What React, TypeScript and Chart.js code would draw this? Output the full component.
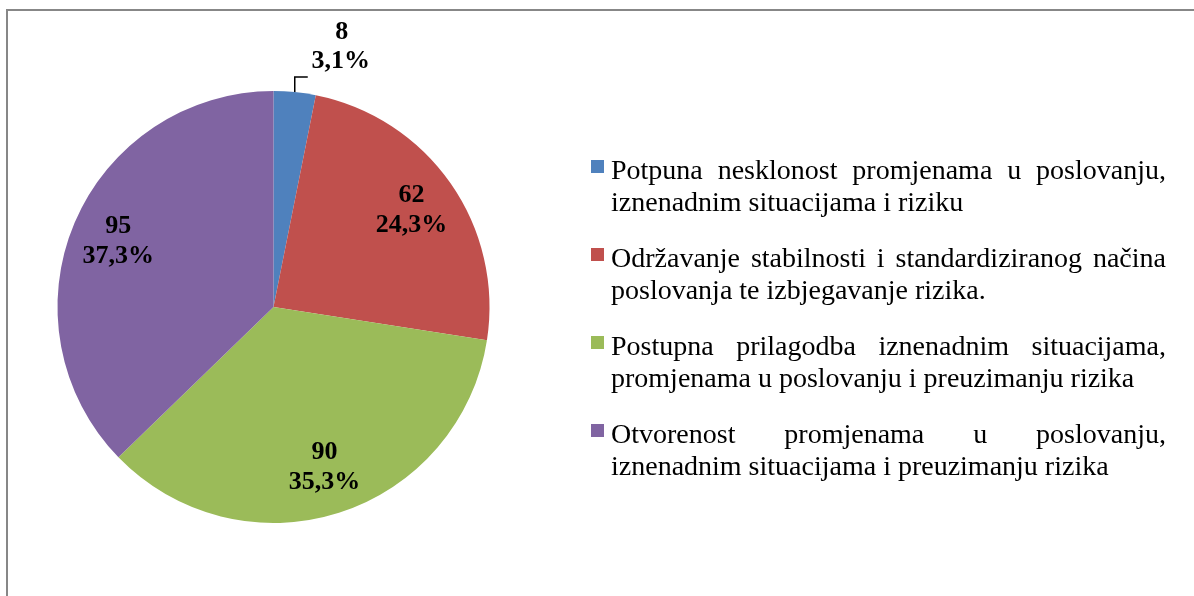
import React, { useEffect, useRef } from "react";
import { Chart, registerables } from "chart.js";

Chart.register(...registerables);

const legendLabels: string[][] = [
  ["Potpuna nesklonost promjenama u poslovanju,", "iznenadnim situacijama i riziku"],
  ["Održavanje stabilnosti i standardiziranog načina", "poslovanja te izbjegavanje rizika."],
  ["Postupna prilagodba iznenadnim situacijama,", "promjenama u poslovanju i preuzimanju rizika"],
  ["Otvorenost promjenama u poslovanju,", "iznenadnim situacijama i preuzimanju rizika"],
];
const counts: number[] = [8, 62, 90, 95];
const sliceColors: string[] = ["#4F81BD", "#C0504D", "#9BBB59", "#8064A2"];

const W = 1194;
const H = 596;

const overlayPlugin = {
  id: "overlay",
  afterDraw(chart: any) {
    const ctx: CanvasRenderingContext2D = chart.ctx;
    ctx.save();
    // frame
    ctx.strokeStyle = "#878787";
    ctx.lineWidth = 2;
    ctx.beginPath();
    ctx.moveTo(7, H + 2);
    ctx.lineTo(7, 10);
    ctx.lineTo(W + 2, 10);
    ctx.stroke();

    // data labels
    const meta = chart.getDatasetMeta(0);
    const data: number[] = chart.data.datasets[0].data;
    const total = data.reduce((a, b) => a + b, 0);
    ctx.fillStyle = "#000";
    ctx.font = "bold 26px 'Liberation Serif', 'Times New Roman', serif";
    ctx.textAlign = "center";
    ctx.textBaseline = "middle";
    const lineGap = 30;
    meta.data.forEach((arc: any, i: number) => {
      const p = arc.getProps(["x", "y", "startAngle", "endAngle", "outerRadius"], true);
      const mid = (p.startAngle + p.endAngle) / 2;
      const v = data[i];
      const pct = ((v / total) * 100).toFixed(1).replace(".", ",") + "%";
      if ((p.endAngle - p.startAngle) < 0.4) {
        // outside label with leader line
        const ax = p.x + Math.cos(mid) * p.outerRadius;
        const ay = p.y + Math.sin(mid) * p.outerRadius;
        const ly = ay - 15;
        const lx = ax + 13;
        ctx.strokeStyle = "#000";
        ctx.lineWidth = 1.5;
        ctx.beginPath();
        ctx.moveTo(ax, ay);
        ctx.lineTo(ax, ly);
        ctx.lineTo(lx, ly);
        ctx.stroke();
        const cx = lx + 33;
        ctx.fillText(pct, cx, ly - 16);
        ctx.fillText(String(v), cx + 1, ly - 16 - lineGap + 1);
      } else {
        const r = p.outerRadius * 0.78;
        const cx = p.x + Math.cos(mid) * r;
        const cy = p.y + Math.sin(mid) * r;
        ctx.fillText(String(v), cx, cy - lineGap / 2);
        ctx.fillText(pct, cx, cy + lineGap / 2);
      }
    });

    // legend
    const labels: string[][] = chart.data.labels;
    const colors: string[] = chart.data.datasets[0].backgroundColor;
    const textX = 611;
    const rightX = 1166;
    const maxW = rightX - textX;
    ctx.font = "28px 'Liberation Serif', 'Times New Roman', serif";
    ctx.textAlign = "left";
    ctx.textBaseline = "alphabetic";
    labels.forEach((lines, i) => {
      const base = 179 + i * 88;
      ctx.fillStyle = colors[i];
      ctx.fillRect(591, base - 19, 13, 13);
      ctx.fillStyle = "#000";
      lines.forEach((line, j) => {
        const y = base + j * 32;
        if (j < lines.length - 1) {
          const words = line.split(" ");
          const ww = words.map((w) => ctx.measureText(w).width);
          const sum = ww.reduce((a, b) => a + b, 0);
          const gap = words.length > 1 ? (maxW - sum) / (words.length - 1) : 0;
          let x = textX;
          words.forEach((w, k) => {
            ctx.fillText(w, x, y);
            x += ww[k] + gap;
          });
        } else {
          ctx.fillText(line, textX, y);
        }
      });
    });
    ctx.restore();
  },
};

export default function App() {
  const ref = useRef<HTMLCanvasElement | null>(null);
  useEffect(() => {
    if (!ref.current) return;
    const chart = new Chart(ref.current, {
      type: "pie",
      data: {
        labels: legendLabels as any,
        datasets: [
          {
            data: counts,
            backgroundColor: sliceColors,
            borderWidth: 0,
          },
        ],
      },
      options: {
        animation: false,
        responsive: false,
        devicePixelRatio: 1,
        layout: { padding: { left: 57, top: 91, right: 704, bottom: 73 } },
        plugins: {
          legend: { display: false },
          tooltip: { enabled: false },
          title: { display: false },
        },
      },
      plugins: [overlayPlugin],
    });
    return () => chart.destroy();
  }, []);
  return (
    <div style={{ position: "fixed", left: 0, top: 0, width: W, height: H, background: "#fff" }}>
      <canvas ref={ref} width={W} height={H} style={{ display: "block", width: W, height: H }} />
    </div>
  );
}
